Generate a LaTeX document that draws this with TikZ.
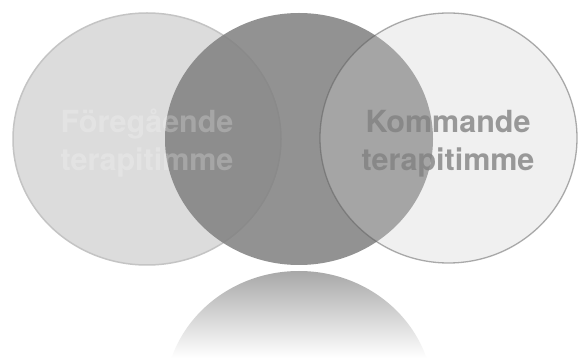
\documentclass[tikz,border=0pt]{standalone}
\usepackage{fontspec}
\setmainfont{TeX Gyre Heros}
\usetikzlibrary{shapes.geometric}
\definecolor{prevfill}{gray}{0.863}
\definecolor{prevline}{gray}{0.77}
\definecolor{midfill}{gray}{0.50}
\definecolor{nextfill}{gray}{0.816}
\definecolor{nextline}{gray}{0.36}
\definecolor{nexttext}{gray}{0.50}
\definecolor{reflecttop}{gray}{0.66}
\tikzset{
  bubble/.style={ellipse, inner sep=0pt, minimum width=268pt, minimum height=252pt},
  lbl/.style={align=center, font=\fontsize{30.5}{38}\selectfont\bfseries, inner sep=0pt}
}
\begin{document}
\begin{tikzpicture}[x=1pt,y=-1pt]
\useasboundingbox (0,0) rectangle (578,363);
\fill[white] (0,0) rectangle (578,363);
% reflection
\begin{scope}
  \clip (299,397) ellipse [x radius=134pt, y radius=126pt];
  \shade[top color=reflecttop, bottom color=white] (160,271) rectangle (440,358);
  \fill[white] (160,358) rectangle (440,364);
\end{scope}
\node[bubble, fill=prevfill, draw=prevline, line width=1.5pt] (prev) at (147,139) {};
\node[bubble, fill=midfill, fill opacity=0.85] (mid) at (299,139) {};
\node[bubble, minimum width=257pt, minimum height=250pt, fill=nextfill, fill opacity=0.31, draw=nextline, draw opacity=0.5, line width=1.3pt] (next) at (448.5,138) {};
\node[lbl, text=white, text opacity=0.22] (prevtext) at (147,143) {Föregående\\terapitimme};
\node[lbl, text=nexttext, text opacity=0.78] (nexttext) at (448,144) {Kommande\\terapitimme};
\end{tikzpicture}
\end{document}
